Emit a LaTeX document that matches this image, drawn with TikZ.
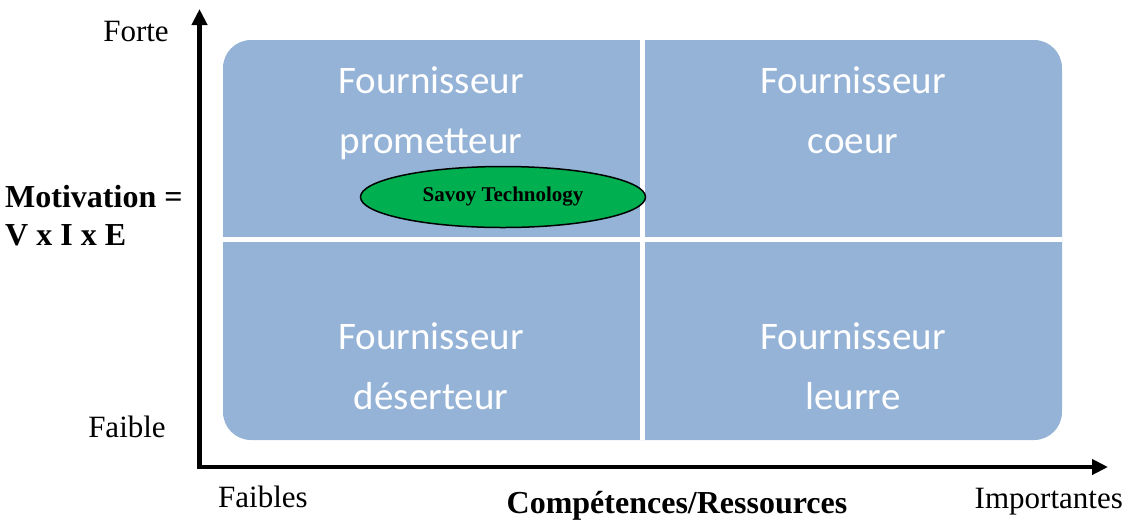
\documentclass[tikz,border=0pt]{standalone}
\usepackage{fontspec}
\setmainfont{Liberation Serif}
\newfontfamily\quadfont{Carlito}
\usepackage{tikz}
\usetikzlibrary{arrows.meta}
\usetikzlibrary{shapes.geometric}
\usepackage{xcolor}
\definecolor{quadblue}{HTML}{95B3D7}
\definecolor{savoygreen}{HTML}{00B050}
\tikzset{>={Triangle[length=16pt,width=15pt]}}

\begin{document}
\begin{tikzpicture}[x=1pt, y=-1pt]
                        % tl/tr/bl/br = quadrants, 1 = first line, 2 = second line
                        \tikzstyle{quad}=[text=white, font=\quadfont\fontsize{39}{39}\selectfont, inner sep=0pt, text height=27pt, text depth=9pt, node distance=60pt]
                        \tikzstyle{lbl}=[font=\fontsize{31}{31}\selectfont, inner sep=0pt]
                        \tikzstyle{blbl}=[font=\bfseries\fontsize{32}{32}\selectfont, inner sep=0pt]
                        \useasboundingbox (0,0) rectangle (1129,523);

                        \fill[quadblue, rounded corners=28pt] (223,40) rectangle (1062,440);
                        \draw[white, line width=5pt] (642,40) -- (642,440);
                        \draw[white, line width=5pt] (223,239) -- (1062,239);

                        \node[quad, anchor=base] (tl1) at (431,93) {Fournisseur};
                        \node[quad] (tl2) [below of = tl1] {prometteur};
                        \node[quad, anchor=base] (tr1) at (853,93) {Fournisseur};
                        \node[quad] (tr2) [below of = tr1] {coeur};
                        \node[quad, anchor=base] (bl1) at (431,349) {Fournisseur};
                        \node[quad] (bl2) [below of = bl1] {déserteur};
                        \node[quad, anchor=base] (br1) at (853,349) {Fournisseur};
                        \node[quad] (br2) [below of = br1] {leurre};

                        \node[ellipse, draw=black, line width=1.5pt, fill=savoygreen, minimum width=285pt, minimum height=61pt, inner sep=0pt, font=\bfseries\fontsize{21}{21}\selectfont] (savoy) at (503,197) {Savoy Technology};

                        \coordinate (origin) at (199.5,467);
                        \coordinate (ytip) at (199.5,9);
                        \coordinate (xtip) at (1108,467);
                        \draw[<->, line width=4.5pt] (ytip) -- (origin) -- (xtip);

                        \node[lbl, anchor=base] (forte) at (136,41) {Forte};
                        \node[lbl, anchor=base] (faible) at (127,437) {Faible};
                        \node[blbl, anchor=base west] (motiv) at (5,207) {Motivation =};
                        \node[blbl, anchor=base west] (vie) at (5,245) {V x I x E};
                        \node[lbl, anchor=base west] (faibles) at (218,507) {Faibles};
                        \node[blbl, anchor=base] (compet) at (677,513) {Compétences/Ressources};
                        \node[lbl, anchor=base east] (import) at (1123,508) {Importantes};
                \end{tikzpicture}
\end{document}
